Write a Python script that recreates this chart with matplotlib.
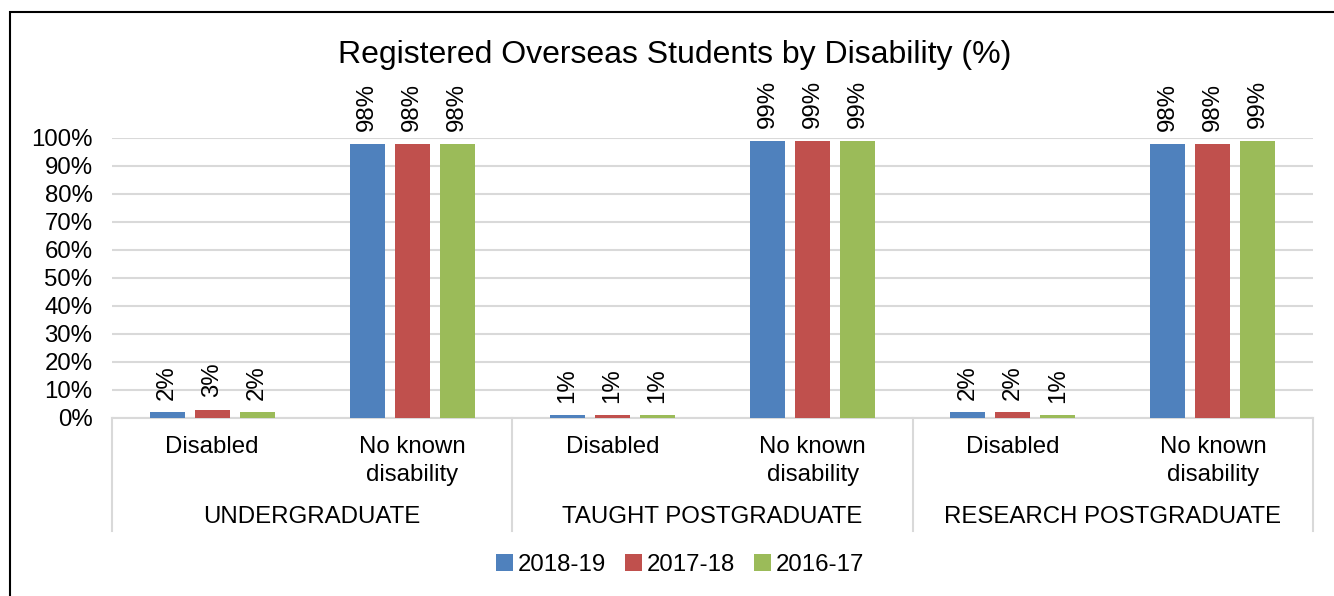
import matplotlib
matplotlib.use("Agg")
import matplotlib.pyplot as plt
from matplotlib.patches import Rectangle
from matplotlib.lines import Line2D

plt.rcParams["font.family"] = ["Liberation Sans", "DejaVu Sans"]

# categories and series (share of registered overseas students, %)
groups = ["UNDERGRADUATE", "TAUGHT POSTGRADUATE", "RESEARCH POSTGRADUATE"]
categories = ["Disabled", "No known\ndisability"] * 3
years = ["2018-19", "2017-18", "2016-17"]
values_1819 = [2, 98, 1, 99, 2, 98]
values_1718 = [3, 98, 1, 99, 2, 98]
values_1617 = [2, 98, 1, 99, 1, 99]
colors = ["#4F81BD", "#C0504D", "#9BBB59"]

W, H = 1334, 596
FS = 17.3
fig = plt.figure(figsize=(W / 100, H / 100), dpi=100)
ax = fig.add_axes([112 / W, 1 - 418 / H, 1201 / W, 280 / H])

bar_w = 0.175
offsets = [-0.225, 0.0, 0.225]
series = [values_1819, values_1718, values_1617]
xs = list(range(len(categories)))

for vals, off, col, lab in zip(series, offsets, colors, years):
    pos = [x + off for x in xs]
    bars = ax.bar(pos, vals, width=bar_w, color=col, label=lab, zorder=3)
    for b, v in zip(bars, vals):
        ax.annotate(f"{v}%", (b.get_x() + b.get_width() / 2, v),
                    xytext=(0, 9), textcoords="offset points",
                    rotation=90, ha="center", va="bottom",
                    fontsize=FS, annotation_clip=False)

ax.set_xlim(-0.5, len(categories) - 0.5)
ax.set_ylim(0, 100)
ax.set_yticks(range(0, 101, 10))
ax.set_yticklabels([f"{t}%" for t in range(0, 101, 10)], fontsize=FS)
ax.tick_params(axis="y", length=0, pad=14)
ax.set_xticks([])
ax.grid(axis="y", color="#d9d9d9", linewidth=1.5, zorder=0)
for s in ["left", "right", "top"]:
    ax.spines[s].set_visible(False)
ax.spines["bottom"].set_color("#d9d9d9")
ax.spines["bottom"].set_linewidth(1.5)

# two-level category axis
xt = ax.get_xaxis_transform()
for x, cat in zip(xs, categories):
    ax.text(x, -0.066, cat, transform=xt, ha="center", va="top",
            fontsize=FS, linespacing=1.3)
for i, g in enumerate(groups):
    ax.text(2 * i + 0.5, -0.355, g, transform=xt, ha="center", va="center",
            fontsize=FS)
for i in range(len(groups) + 1):
    xb = 2 * i - 0.5
    ax.add_line(Line2D([xb, xb], [0, -0.405], transform=xt, color="#d9d9d9",
                       linewidth=1.5, clip_on=False))

fig.text(0.506, 1 - 55 / H, "Registered Overseas Students by Disability (%)",
         ha="center", va="center", fontsize=23)

fig.legend(loc="center", bbox_to_anchor=(0.51, 1 - 565 / H), ncol=3,
           frameon=False, fontsize=FS, handlelength=0.7, handleheight=0.7,
           handletextpad=0.2, columnspacing=0.8)

fig.patches.append(Rectangle((10 / W, -0.1), 1.2, 1 - 12 / H + 0.1,
                             transform=fig.transFigure, fill=False,
                             edgecolor="black", linewidth=1.5))

fig.savefig("out.png", dpi=100)
